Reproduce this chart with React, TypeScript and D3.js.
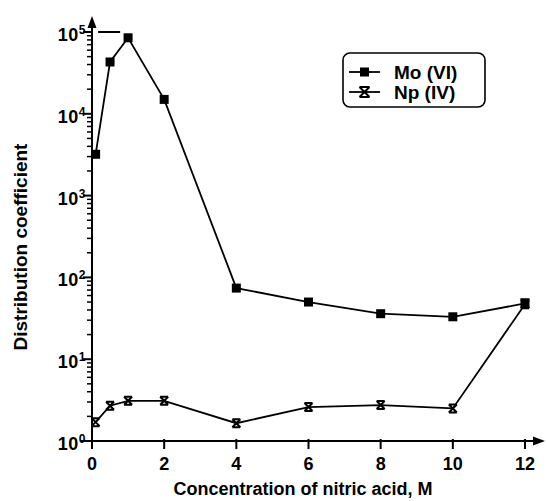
import React, { useEffect, useRef } from "react";
import * as d3 from "d3";

// nitric acid concentration, M
const acid = [0.1, 0.5, 1, 2, 4, 6, 8, 10, 12];
const moValues = [3200, 43000, 85000, 15000, 74, 50, 36, 33, 48];
const npValues = [1.7, 2.7, 3.1, 3.1, 1.65, 2.6, 2.75, 2.5, 47];
// error bar on the last Mo point (low, high)
const moError = [null, null, null, null, null, null, null, null, [43, 54]];
const xTicks = [0, 2, 4, 6, 8, 10, 12];
const yExponents = [0, 1, 2, 3, 4, 5];
const refLevel = 1e5;
const refSpan = [0.17, 0.78];
const seriesNames = ["Mo (VI)", "Np (IV)"];

const FONT = "'Liberation Sans', Arial, sans-serif";

const App = () => {
  const svgRef = useRef<SVGSVGElement | null>(null);

  useEffect(() => {
    if (!svgRef.current) return;
    const svg = d3.select(svgRef.current);
    svg.selectAll("*").remove();

    const width = 547;
    const height = 501;
    svg.attr("width", width).attr("height", height);

    const x = d3.scaleLinear().domain([0, 12]).range([92, 525]);
    const y = d3.scaleLog().domain([1, 1e5]).range([441, 32]);

    const g = svg.append("g")
      .attr("font-family", FONT)
      .attr("font-weight", "bold")
      .attr("fill", "#000");

    // axes lines
    g.append("line")
      .attr("x1", x(0) - 11).attr("x2", 536)
      .attr("y1", y(1)).attr("y2", y(1))
      .attr("stroke", "#000").attr("stroke-width", 2);
    g.append("path")
      .attr("d", `M545,${y(1)} L533,${y(1) - 4.5} L533,${y(1) + 4.5} Z`)
      .attr("fill", "#000");
    g.append("line")
      .attr("x1", x(0)).attr("x2", x(0))
      .attr("y1", y(1)).attr("y2", 26)
      .attr("stroke", "#000").attr("stroke-width", 2);
    g.append("path")
      .attr("d", `M${x(0)},16 L${x(0) - 4.5},28 L${x(0) + 4.5},28 Z`)
      .attr("fill", "#000");

    // x ticks
    xTicks.forEach((t) => {
      g.append("line")
        .attr("x1", x(t)).attr("x2", x(t))
        .attr("y1", y(1) - 2).attr("y2", y(1) + 8)
        .attr("stroke", "#000").attr("stroke-width", 2);
      g.append("text")
        .attr("x", x(t)).attr("y", 470)
        .attr("text-anchor", "middle")
        .attr("font-size", 18)
        .text(t);
    });

    // y ticks, major and minor
    yExponents.forEach((e) => {
      const v = Math.pow(10, e);
      g.append("line")
        .attr("x1", x(0) - 9).attr("x2", x(0))
        .attr("y1", y(v)).attr("y2", y(v))
        .attr("stroke", "#000").attr("stroke-width", 2);
      const label = g.append("text")
        .attr("x", x(0) - 6).attr("y", y(v) + 9)
        .attr("text-anchor", "end")
        .attr("font-size", 18)
        .attr("letter-spacing", 0.5);
      label.append("tspan").text("10");
      label.append("tspan").attr("dy", -7).attr("font-size", 12).text(e);
      if (e < 5) {
        for (let k = 2; k <= 9; k++) {
          g.append("line")
            .attr("x1", x(0) - 5).attr("x2", x(0))
            .attr("y1", y(k * v)).attr("y2", y(k * v))
            .attr("stroke", "#000").attr("stroke-width", 1.5);
        }
      }
    });

    // axis titles
    g.append("text")
      .attr("x", 303).attr("y", 495)
      .attr("text-anchor", "middle")
      .attr("font-size", 18)
      .text("Concentration of nitric acid, M");
    g.append("text")
      .attr("transform", "translate(27,247) rotate(-90)")
      .attr("text-anchor", "middle")
      .attr("font-size", 19)
      .text("Distribution coefficient");

    // reference dash at 10^5
    g.append("line")
      .attr("x1", x(refSpan[0])).attr("x2", x(refSpan[1]))
      .attr("y1", y(refLevel)).attr("y2", y(refLevel))
      .attr("stroke", "#000").attr("stroke-width", 2);

    const line = d3.line<number>()
      .x((_, i) => x(acid[i]))
      .y((d) => y(d));

    g.append("path").datum(npValues)
      .attr("d", line).attr("fill", "none")
      .attr("stroke", "#000").attr("stroke-width", 1.8);
    g.append("path").datum(moValues)
      .attr("d", line).attr("fill", "none")
      .attr("stroke", "#000").attr("stroke-width", 1.8);

    const hourglass = (s: number) =>
      `M${-s},${-s} L${s},${-s} M${-s},${s} L${s},${s} M${-s},${-s} L${s},${s} M${s},${-s} L${-s},${s}`;

    // Np markers
    npValues.forEach((v, i) => {
      g.append("path")
        .attr("transform", `translate(${x(acid[i])},${y(v)})`)
        .attr("d", hourglass(4))
        .attr("fill", "none").attr("stroke", "#000").attr("stroke-width", 2);
    });

    // Mo markers and error bars
    moValues.forEach((v, i) => {
      const err = moError[i];
      if (err) {
        const cx = x(acid[i]);
        g.append("path")
          .attr("d", `M${cx},${y(err[0])} L${cx},${y(err[1])} M${cx - 4.5},${y(err[0])} L${cx + 4.5},${y(err[0])} M${cx - 4.5},${y(err[1])} L${cx + 4.5},${y(err[1])}`)
          .attr("stroke", "#000").attr("stroke-width", 2);
      }
      g.append("rect")
        .attr("x", x(acid[i]) - 4.5).attr("y", y(v) - 4.5)
        .attr("width", 9).attr("height", 9)
        .attr("fill", "#000");
    });

    // legend
    const lg = g.append("g");
    lg.append("rect")
      .attr("x", 343).attr("y", 53)
      .attr("width", 142).attr("height", 54)
      .attr("rx", 7)
      .attr("fill", "#fff").attr("stroke", "#000").attr("stroke-width", 1.6);
    seriesNames.forEach((name, i) => {
      const ly = 72 + i * 20;
      lg.append("line")
        .attr("x1", 349).attr("x2", 380)
        .attr("y1", ly).attr("y2", ly)
        .attr("stroke", "#000").attr("stroke-width", 1.8);
      if (i === 0) {
        lg.append("rect")
          .attr("x", 360).attr("y", ly - 4.5)
          .attr("width", 9).attr("height", 9)
          .attr("fill", "#000");
      } else {
        lg.append("path")
          .attr("transform", `translate(364.5,${ly})`)
          .attr("d", hourglass(5))
          .attr("fill", "none").attr("stroke", "#000").attr("stroke-width", 2);
      }
      lg.append("text")
        .attr("x", 394).attr("y", ly + 7)
        .attr("font-size", 19)
        .text(name);
    });
  }, []);

  return (
    <div style={{ position: "absolute", left: 0, top: 0, background: "#fff" }}>
      <svg ref={svgRef}></svg>
    </div>
  );
};

export default App;
